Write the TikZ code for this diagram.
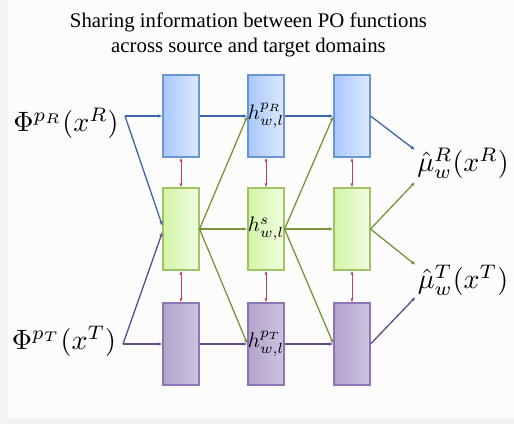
\documentclass[tikz,border=0pt]{standalone}
\usepackage{fontspec}
\newfontfamily\titlefont{Liberation Serif}
\usetikzlibrary{arrows.meta}

\definecolor{bgedge}{HTML}{F3F3F3}
\definecolor{bgin}{HTML}{FCFCFC}
\definecolor{srcL}{HTML}{A9C7FC}
\definecolor{srcR}{HTML}{DDE9FE}
\definecolor{srcline}{HTML}{6C96D2}
\definecolor{shaL}{HTML}{D3F5A6}
\definecolor{shaR}{HTML}{F0FDE0}
\definecolor{shaline}{HTML}{A2C266}
\definecolor{tgtL}{HTML}{B3A3CC}
\definecolor{tgtR}{HTML}{CEC3E0}
\definecolor{tgtline}{HTML}{8E75B5}
\definecolor{srcarrow}{HTML}{3B67A6}
\definecolor{shaarrow}{HTML}{77963A}
\definecolor{tgtarrow}{HTML}{5E4A8C}
\definecolor{sharearrow}{HTML}{B5484A}

\newcommand{\hlbl}[1]{\scalebox{2.1}{$#1$}}
\newcommand{\biglbl}[1]{\scalebox{2.8}{$#1$}}

\tikzset{
  layer/.style={draw, line width=1.1pt, minimum width=36pt, minimum height=82pt,
    inner sep=0pt},
  srcbox/.style={layer, draw=srcline, left color=srcL, right color=srcR},
  shabox/.style={layer, draw=shaline, left color=shaL, right color=shaR},
  tgtbox/.style={layer, draw=tgtline, left color=tgtL, right color=tgtR},
  link/.style={line width=1.3pt, -{Latex[length=4.5pt,width=3.5pt]}},
  share/.style={draw=sharearrow, line width=1pt,
    {Latex[length=4pt,width=3pt]}-{Latex[length=4pt,width=3pt]}},
  iolbl/.style={inner sep=2pt},
}

\begin{document}
\begin{tikzpicture}[x=1pt,y=-1pt]
  \useasboundingbox (0,0) rectangle (514,424);
  % background
  \fill[bgedge] (0,0) rectangle (514,424);
  \fill[bgin] (8,0) rectangle (514,418);

  \node[font=\titlefont\fontsize{20.8}{25}\selectfont, align=center] (title) at (248.5,35)
    {Sharing information between PO functions\\across source and target domains};

  % layers
  \node[srcbox] (s1) at (181,116) {};
  \node[srcbox] (s2) at (266,116) {\hlbl{h^{p_R}_{w,l}}};
  \node[srcbox] (s3) at (352,116) {};
  \node[shabox] (c1) at (181,229) {};
  \node[shabox] (c2) at (266,229) {\hlbl{h^{s}_{w,l}}};
  \node[shabox] (c3) at (352,229) {};
  \node[tgtbox] (t1) at (181,344) {};
  \node[tgtbox] (t2) at (266,344) {\hlbl{h^{p_T}_{w,l}}};
  \node[tgtbox] (t3) at (352,344) {};

  % inputs and outputs
  \node[iolbl] (phiR) at (66,123) {\biglbl{\Phi^{p_R}(x^R)}};
  \node[iolbl] (phiT) at (64,341) {\biglbl{\Phi^{p_T}(x^T)}};
  \node[iolbl] (muR) at (463,163) {\biglbl{\hat\mu^R_w(x^R)}};
  \node[iolbl] (muT) at (463,280) {\biglbl{\hat\mu^T_w(x^T)}};
  \coordinate (inR) at (125,116);
  \coordinate (inT) at (123,344);

  % source path
  \draw[link, srcarrow] (inR) -- (s1.west);
  \draw[link, srcarrow] (inR) -- ([yshift=3pt]c1.west);
  \draw[link, srcarrow] (s1.east) -- (s2.west);
  \draw[link, srcarrow] (s2.east) -- (s3.west);
  \draw[link, srcarrow] (s3.east) -- ([yshift=13pt]muR.west);

  % target path
  \draw[link, tgtarrow] (inT) -- (t1.west);
  \draw[link, tgtarrow] (inT) -- ([yshift=-3pt]c1.west);
  \draw[link, tgtarrow] (t1.east) -- (t2.west);
  \draw[link, tgtarrow] (t2.east) -- (t3.west);
  \draw[link, tgtarrow] (t3.east) -- ([yshift=-17pt]muT.west);

  % shared path
  \foreach \a/\b in {c1/s2, c1/c2, c1/t2, c2/s3, c2/c3, c2/t3}
    \draw[link, shaarrow] (\a.east) -- (\b.west);
  \draw[link, shaarrow] (c3.east) -- ([yshift=-19pt]muR.west);
  \draw[link, shaarrow] (c3.east) -- ([yshift=15pt]muT.west);

  % sharing between rows
  \foreach \i in {1,2,3} {
    \draw[share] (s\i.south) -- (c\i.north);
    \draw[share] (c\i.south) -- (t\i.north);
  }
\end{tikzpicture}
\end{document}
